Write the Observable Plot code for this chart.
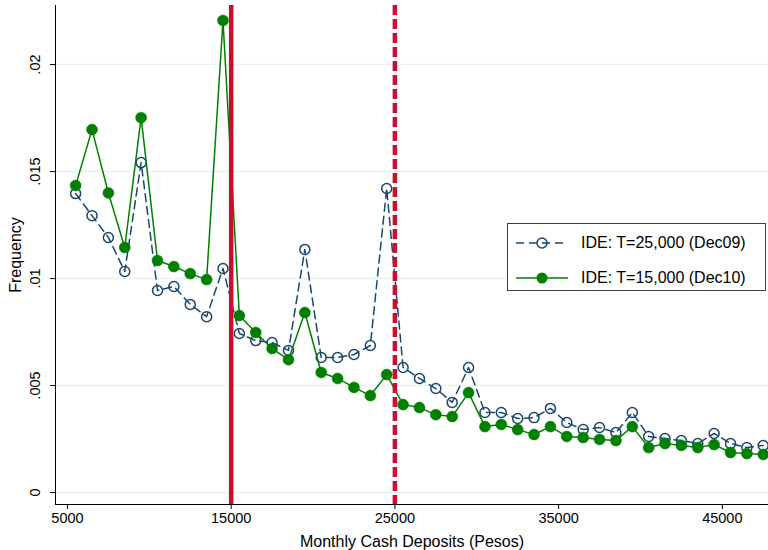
<!DOCTYPE html>
<html><head><meta charset="utf-8">
<script src="https://cdn.jsdelivr.net/npm/d3@7"></script>
<script src="https://cdn.jsdelivr.net/npm/@observablehq/plot@0.6"></script>
<style>
body{margin:0;background:#fff;font-family:"Liberation Sans",Arial,sans-serif;}
#wrap{position:relative;width:768px;height:550px;}
#legend{position:absolute;left:507px;top:223px;width:259px;height:68px;border:1px solid #404040;background:#fff;box-sizing:border-box;font-size:16px;color:#000;}
#legend .row{position:absolute;left:0;height:20px;display:flex;align-items:center;}
#legend svg{margin-left:7px;margin-right:12px;}
</style></head><body><div id="wrap"></div>
<script>
const bins = [5500,6500,7500,8500,9500,10500,11500,12500,13500,14500,15500,16500,17500,18500,19500,20500,21500,22500,23500,24500,25500,26500,27500,28500,29500,30500,31500,32500,33500,34500,35500,36500,37500,38500,39500,40500,41500,42500,43500,44500,45500,46500,47500];
const dec09 = [0.01397,0.01294,0.01192,0.01033,0.01542,0.00944,0.00963,0.00879,0.00822,0.01047,0.00743,0.0071,0.00701,0.00664,0.01136,0.00631,0.00631,0.00645,0.00687,0.01421,0.00584,0.00533,0.00486,0.00421,0.00584,0.00374,0.00374,0.00346,0.0035,0.00393,0.00327,0.00294,0.00304,0.0028,0.00374,0.00262,0.00252,0.00243,0.00229,0.00276,0.00229,0.0021,0.0022];
const dec10 = [0.01435,0.01696,0.0140,0.01145,0.01752,0.01084,0.01056,0.01023,0.00995,0.02206,0.00827,0.00748,0.00673,0.00621,0.00841,0.00561,0.00533,0.00491,0.00453,0.00551,0.00411,0.00397,0.00364,0.00355,0.00467,0.00308,0.00318,0.00294,0.00271,0.00308,0.00262,0.00257,0.00248,0.00243,0.00308,0.0021,0.00229,0.0022,0.0021,0.00224,0.00187,0.00182,0.00178];
const seriesNames = ["IDE: T=25,000 (Dec09)", "IDE: T=15,000 (Dec10)"];
const xTicks = [5000, 15000, 25000, 35000, 45000];
const yTicks = [0, 0.005, 0.01, 0.015, 0.02];
const yTickLabels = ["0", ".005", ".01", ".015", ".02"];
const solidThreshold = [15000];
const dashedThreshold = [25000];
const xLabel = "Monthly Cash Deposits (Pesos)";
const yLabel = "Frequency";

const xDomain = [4270, 47820];
const yDomain = [-0.00056, 0.02276];
const blue = "#1a476f", green = "#008000", red = "#c8102e";

const d09 = bins.map((x, i) => ({x, y: dec09[i]}));
const d10 = bins.map((x, i) => ({x, y: dec10[i]}));
const yLab = yTicks.map((v, i) => ({v, t: yTickLabels[i]}));

const chart = Plot.plot({
  width: 768, height: 550,
  marginLeft: 55, marginRight: 0, marginTop: 5, marginBottom: 46,
  style: {fontFamily: '"Liberation Sans", Arial, sans-serif', background: "#fff", overflow: "visible"},
  x: {domain: xDomain},
  y: {domain: yDomain},
  marks: [
    Plot.ruleY(yTicks, {stroke: "#eaf2f3", strokeWidth: 1.5}),
    Plot.line(d09, {x: "x", y: "y", stroke: blue, strokeWidth: 1.5, strokeDasharray: "8,5"}),
    Plot.dot(d09, {x: "x", y: "y", r: 5, stroke: blue, strokeWidth: 1.5, fill: "none"}),
    Plot.line(d10, {x: "x", y: "y", stroke: green, strokeWidth: 1.5}),
    Plot.dot(d10, {x: "x", y: "y", r: 5.5, fill: green, stroke: green, strokeWidth: 0.5}),
    Plot.ruleX(solidThreshold, {stroke: red, strokeWidth: 4.5}),
    Plot.ruleX(dashedThreshold, {stroke: red, strokeWidth: 4.5, strokeDasharray: "10,4"}),
    Plot.ruleX([xDomain[0]], {stroke: "#000", strokeWidth: 1}),
    Plot.ruleY([yDomain[0]], {stroke: "#000", strokeWidth: 1}),
    Plot.axisX(xTicks, {tickSize: 5, tickPadding: 3, fontSize: 14.5, tickFormat: d => String(d), label: null, stroke: "#000", color: "#000"}),
    Plot.axisY(yTicks, {tickSize: 5, tickFormat: () => "", label: null, stroke: "#000"}),
    Plot.text(yLab, {y: "v", text: "t", frameAnchor: "left", dx: -16, rotate: -90, textAnchor: "middle", lineAnchor: "bottom", fontSize: 14.5, fill: "#000"}),
    Plot.text([yLabel], {frameAnchor: "left", dx: -40, rotate: -90, textAnchor: "middle", lineAnchor: "middle", fontSize: 16, fill: "#000"}),
    Plot.text([xLabel], {frameAnchor: "bottom", dy: 37, textAnchor: "middle", lineAnchor: "middle", fontSize: 16, fill: "#000"})
  ]
});
const wrap = document.getElementById("wrap");
wrap.appendChild(chart);

const leg = document.createElement("div");
leg.id = "legend";
leg.innerHTML = `
<div class="row" style="top:9px"><svg width="54" height="14"><line x1="1" y1="7" x2="53" y2="7" stroke="${blue}" stroke-width="1.5" stroke-dasharray="8,5"/><circle cx="27" cy="7" r="5" fill="none" stroke="${blue}" stroke-width="1.5"/></svg><span>${seriesNames[0]}</span></div>
<div class="row" style="top:44px"><svg width="54" height="14"><line x1="1" y1="7" x2="53" y2="7" stroke="${green}" stroke-width="1.5"/><circle cx="27" cy="7" r="5.5" fill="${green}"/></svg><span>${seriesNames[1]}</span></div>`;
wrap.appendChild(leg);
</script>
</body></html>
